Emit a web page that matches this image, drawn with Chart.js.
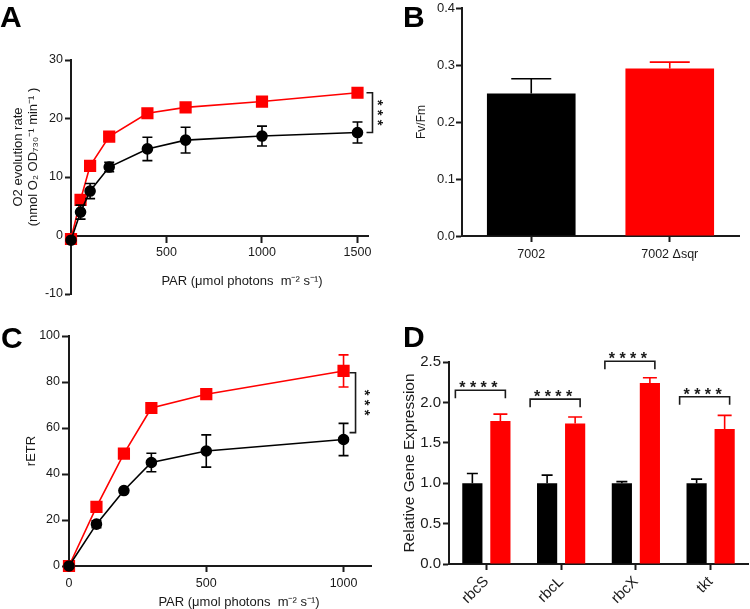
<!DOCTYPE html>
<html>
<head>
<meta charset="utf-8">
<script src="https://cdn.jsdelivr.net/npm/chart.js@4.4.0/dist/chart.umd.min.js"></script>
<style>
    html, body { margin: 0; padding: 0; background: #fff; }
    #wrap { position: relative; width: 750px; height: 609px; }
    #wrap canvas { position: absolute; left: 0; top: 0; }
</style>
</head>
<body>
<div id="wrap">
    <canvas id="chartA" width="750" height="609"></canvas>
    <canvas id="chartB" width="750" height="609"></canvas>
    <canvas id="chartC" width="750" height="609"></canvas>
    <canvas id="chartD" width="750" height="609"></canvas>
</div>
<script>
// A: O2 evolution vs PAR
const parA = [0, 50, 100, 200, 400, 600, 1000, 1500]
const o2Wt = [-0.8, 4.0, 7.6, 11.7, 14.8, 16.3, 17.0, 17.6]
const o2WtErr = [0, 1.2, 1.3, 0.8, 2.0, 2.2, 1.7, 1.8]
const o2Sqr = [-0.6, 6.1, 11.9, 16.9, 20.9, 21.9, 22.9, 24.4]
const o2SqrErr = [0, 0, 0, 0, 0, 0, 0, 0]
const bracketA = [24.4, 17.6]
const ticksAx = [500, 1000, 1500]

// B: Fv/Fm
const strains = ['7002', '7002 Δsqr']
const fvfm = [0.250, 0.294]
const fvfmErr = [0.026, 0.011]

// C: rETR vs PAR
const parC = [0, 100, 200, 300, 500, 1000]
const etrWt = [0, 18.2, 32.8, 45, 50, 55]
const etrWtErr = [0, 1.5, 0, 4, 7, 7]
const etrSqr = [0, 25.7, 48.9, 68.7, 74.7, 84.8]
const etrSqrErr = [0, 0, 0, 0, 0, 7]
const bracketC = [84, 58]
const ticksCx = [0, 500, 1000]

// D: relative gene expression
const genes = ['rbcS', 'rbcL', 'rbcX', 'tkt']
const exprWt = [1.0, 1.0, 1.0, 1.0]
const exprWtErr = [0.12, 0.10, 0.02, 0.05]
const exprSqr = [1.77, 1.74, 2.24, 1.67]
const exprSqrErr = [0.085, 0.08, 0.065, 0.17]
const bracketD = [2.15, 2.04, 2.51, 2.07]

const RED = '#ff0000'
const FONT = '"Liberation Sans", Arial, Helvetica, sans-serif'
const INK = '#1a1a1a'

const pts = (xs, ys) => xs.map((x, i) => ({x, y: ys[i]}))

// vertical error bars, read from dataset.errors
const errorBars = {
    id: 'errorBars',
    afterDatasetsDraw(chart) {
        const ctx = chart.ctx
        const yScale = chart.scales.y
        chart.data.datasets.forEach((ds, di) => {
            if (!ds.errors) return
            const meta = chart.getDatasetMeta(di)
            meta.data.forEach((el, i) => {
                const err = ds.errors[i]
                if (!err) return
                const raw = ds.data[i]
                const v = typeof raw === 'object' ? raw.y : raw
                const top = yScale.getPixelForValue(v + err)
                const bottom = yScale.getPixelForValue(ds.upOnly ? v : v - err)
                const half = ds.capWidth / 2
                ctx.save()
                ctx.strokeStyle = Array.isArray(ds.errorColor) ? ds.errorColor[i] : (ds.errorColor || ds.borderColor)
                ctx.lineWidth = 1.6
                ctx.beginPath()
                ctx.moveTo(el.x, top); ctx.lineTo(el.x, bottom)
                ctx.moveTo(el.x - half, top); ctx.lineTo(el.x + half, top)
                if (!ds.upOnly) {
                    ctx.moveTo(el.x - half, bottom); ctx.lineTo(el.x + half, bottom)
                }
                ctx.stroke()
                ctx.restore()
            })
        })
    }
}

// free text / brackets drawn after the chart
const notes = (id, fn) => ({id, afterDraw(chart) { chart.ctx.save(); fn(chart.ctx, chart); chart.ctx.restore() }})

function text(ctx, str, x, y, size, opts = {}) {
    ctx.save()
    ctx.font = (opts.bold ? 'bold ' : '') + size + 'px ' + FONT
    ctx.fillStyle = opts.color || INK
    ctx.textAlign = opts.align || 'center'
    ctx.textBaseline = opts.baseline || 'middle'
    ctx.translate(x, y)
    if (opts.rotate) ctx.rotate(opts.rotate)
    ctx.fillText(str, 0, 0)
    ctx.restore()
}

function sideBracket(ctx, x, y1, y2) {
    ctx.strokeStyle = INK
    ctx.lineWidth = 1.6
    ctx.beginPath()
    ctx.moveTo(x - 6, y1); ctx.lineTo(x, y1); ctx.lineTo(x, y2); ctx.lineTo(x - 6, y2)
    ctx.stroke()
}

function axis(size, tickLen, pad) {
    return {
        border: {color: INK, width: 2},
        grid: {drawOnChartArea: false, drawTicks: true, tickLength: tickLen, tickColor: INK, tickWidth: 2, offset: false},
        ticks: {color: INK, font: {family: FONT, size}, padding: pad}
    }
}

const fixY = w => s => { s.width = w; s.paddingTop = 0; s.paddingBottom = 0 }
const fixX = h => s => { s.height = h; s.paddingLeft = 0; s.paddingRight = 0 }
const useTicks = list => s => { s.ticks = list.map(value => ({value})) }
const plain = v => String(v)

const base = {
    responsive: false,
    animation: false,
    events: [],
    plugins: {legend: {display: false}, tooltip: {enabled: false}},
}

// ---------- A ----------
const axA = axis(12.5, 6, 2)
const axAx = axis(12.5, 6, 4)
new Chart(document.getElementById('chartA'), {
    type: 'line',
    data: {
        datasets: [
            {data: pts(parA, o2Wt), borderColor: '#000', backgroundColor: '#000', pointStyle: 'circle',
             pointRadius: 5, borderWidth: 1.6, clip: false, errors: o2WtErr, capWidth: 10},
            {data: pts(parA, o2Sqr), borderColor: RED, backgroundColor: RED, pointStyle: 'rect',
             pointRadius: 7.5, borderWidth: 1.6, clip: false, errors: o2SqrErr, capWidth: 10}
        ]
    },
    options: {
        ...base,
        layout: {padding: {left: 31, top: 60, right: 382, bottom: 315}, autoPadding: false},
        elements: {line: {tension: 0}},
        scales: {
            x: {...axAx, type: 'linear', position: {y: 0}, min: 0, max: 1555,
                ticks: {...axAx.ticks, callback: plain},
                afterBuildTicks: useTicks(ticksAx),
                afterFit: fixX(0)},
            y: {...axA, min: -10, max: 30,
                ticks: {...axA.ticks, stepSize: 10, callback: plain},
                afterFit: fixY(40)}
        }
    },
    plugins: [errorBars, notes('notesA', (ctx, chart) => {
        const {x, y} = chart.scales
        text(ctx, 'A', 0, 27, 30, {bold: true, align: 'left', baseline: 'alphabetic', color: '#000'})
        text(ctx, 'O2 evolution rate', 18, 157, 13, {rotate: -Math.PI / 2})
        text(ctx, '(nmol O\u2082 OD\u2087\u2083\u2080\u207B\u00B9 min\u207B\u00B9 )', 33, 157, 13, {rotate: -Math.PI / 2})
        text(ctx, 'PAR (\u03BCmol photons  m\u207B\u00B2 s\u207B\u00B9)', 242, 281, 13)
        const bx = x.getPixelForValue(parA[parA.length - 1]) + 15
        sideBracket(ctx, bx, y.getPixelForValue(bracketA[0]), y.getPixelForValue(bracketA[1]))
        text(ctx, '* * *', bx + 5, (y.getPixelForValue(bracketA[0]) + y.getPixelForValue(bracketA[1])) / 2, 15, {bold: true, rotate: Math.PI / 2})
    })]
})

// ---------- B ----------
const axB = axis(13, 6, 1)
const axBx = axis(12.5, 6, 5)
new Chart(document.getElementById('chartB'), {
    type: 'bar',
    data: {
        labels: strains,
        datasets: [{data: fvfm, backgroundColor: ['#000', RED], categoryPercentage: 0.8, barPercentage: 0.8,
                    errors: fvfmErr, upOnly: true, errorColor: ['#000', RED], capWidth: 40}]
    },
    options: {
        ...base,
        layout: {padding: {left: 410, top: 8, right: 11, bottom: 333}, autoPadding: false},
        scales: {
            x: {...axBx, afterFit: fixX(40)},
            y: {...axB, min: 0, max: 0.4,
                ticks: {...axB.ticks, stepSize: 0.1, callback: v => v.toFixed(1)},
                title: {display: true, text: 'Fv/Fm', color: INK, font: {family: FONT, size: 12}},
                afterFit: fixY(52)}
        }
    },
    plugins: [errorBars, notes('notesB', ctx => {
        text(ctx, 'B', 403, 27, 30, {bold: true, align: 'left', baseline: 'alphabetic', color: '#000'})
    })]
})

// ---------- C ----------
const axC = axis(12.5, 7, 2)
const axCx = axis(12.5, 6, 4)
new Chart(document.getElementById('chartC'), {
    type: 'line',
    data: {
        datasets: [
            {data: pts(parC, etrWt), borderColor: '#000', backgroundColor: '#000', pointStyle: 'circle',
             pointRadius: 5, borderWidth: 1.6, clip: false, errors: etrWtErr, capWidth: 10},
            {data: pts(parC, etrSqr), borderColor: RED, backgroundColor: RED, pointStyle: 'rect',
             pointRadius: 7.5, borderWidth: 1.6, clip: false, errors: etrSqrErr, capWidth: 10}
        ]
    },
    options: {
        ...base,
        layout: {padding: {left: 20, top: 336, right: 379, bottom: 18}, autoPadding: false},
        elements: {line: {tension: 0}},
        scales: {
            x: {...axCx, type: 'linear', min: 0, max: 1100,
                ticks: {...axCx.ticks, callback: plain},
                afterBuildTicks: useTicks(ticksCx),
                afterFit: fixX(25)},
            y: {...axC, min: 0, max: 100,
                ticks: {...axC.ticks, stepSize: 20, callback: plain},
                title: {display: true, text: 'rETR', color: INK, font: {family: FONT, size: 13}},
                afterFit: fixY(49)}
        }
    },
    plugins: [errorBars, notes('notesC', (ctx, chart) => {
        const {x, y} = chart.scales
        text(ctx, 'C', 1, 348, 30, {bold: true, align: 'left', baseline: 'alphabetic', color: '#000'})
        text(ctx, 'PAR (\u03BCmol photons  m\u207B\u00B2 s\u207B\u00B9)', 239, 602, 13)
        const bx = x.getPixelForValue(parC[parC.length - 1]) + 12
        sideBracket(ctx, bx, y.getPixelForValue(bracketC[0]), y.getPixelForValue(bracketC[1]))
        text(ctx, '* * *', bx + 8.5, (y.getPixelForValue(bracketC[0]) + y.getPixelForValue(bracketC[1])) / 2, 15, {bold: true, rotate: Math.PI / 2})
    })]
})

// ---------- D ----------
const axD = axis(15, 6, 2)
const axDx = axis(15, 6, 3)
new Chart(document.getElementById('chartD'), {
    type: 'bar',
    data: {
        labels: genes,
        datasets: [
            {data: exprWt, backgroundColor: '#000', categoryPercentage: 0.75, barPercentage: 0.72,
             errors: exprWtErr, upOnly: true, errorColor: '#000', capWidth: 11},
            {data: exprSqr, backgroundColor: RED, categoryPercentage: 0.75, barPercentage: 0.72,
             errors: exprSqrErr, upOnly: true, errorColor: RED, capWidth: 14}
        ]
    },
    options: {
        ...base,
        layout: {padding: {left: 396, top: 362, right: 2, bottom: 0}, autoPadding: false},
        scales: {
            x: {...axDx, ticks: {...axDx.ticks, minRotation: 45, maxRotation: 45},
                afterFit: fixX(45)},
            y: {...axD, min: 0, max: 2.5,
                ticks: {...axD.ticks, stepSize: 0.5, callback: v => v.toFixed(1)},
                title: {display: true, text: 'Relative Gene Expression', color: INK, font: {family: FONT, size: 15.5}},
                afterFit: fixY(53)}
        }
    },
    plugins: [errorBars, notes('notesD', (ctx, chart) => {
        const {x, y} = chart.scales
        text(ctx, 'D', 403, 347, 30, {bold: true, align: 'left', baseline: 'alphabetic', color: '#000'})
        ctx.strokeStyle = INK
        ctx.lineWidth = 1.6
        bracketD.forEach((v, i) => {
            const cx = x.getPixelForValue(i)
            const yy = y.getPixelForValue(v)
            ctx.beginPath()
            ctx.moveTo(cx - 31, yy + 8); ctx.lineTo(cx - 31, yy); ctx.lineTo(cx + 19, yy); ctx.lineTo(cx + 19, yy + 8)
            ctx.stroke()
            text(ctx, '* * * *', cx - 8, yy + 3, 16, {bold: true, baseline: 'alphabetic'})
        })
    })]
})
</script>
</body>
</html>
